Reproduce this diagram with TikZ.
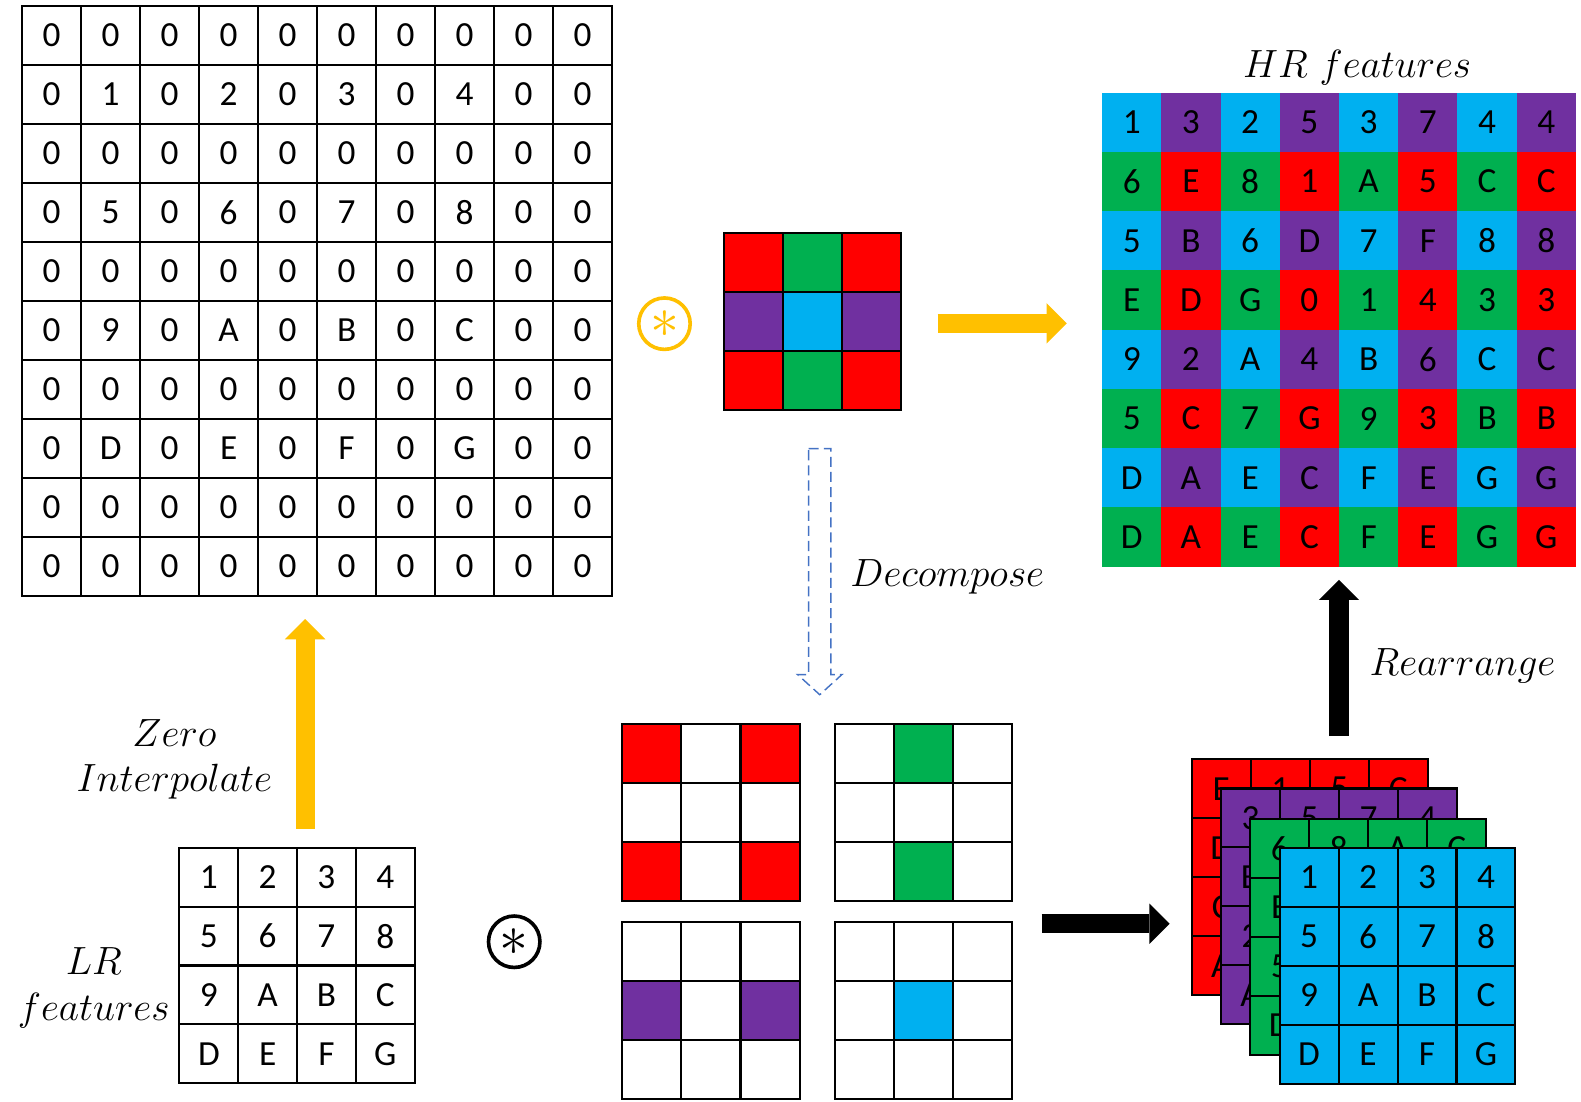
\documentclass[tikz,border=0pt]{standalone}
\usepackage{graphicx}
\usepackage{fontspec}
\newfontfamily\cellfont{Carlito}
\definecolor{cellRed}{RGB}{255,0,0}
\definecolor{cellGreen}{RGB}{0,176,80}
\definecolor{cellBlue}{RGB}{0,176,240}
\definecolor{cellPurple}{RGB}{112,48,160}
\definecolor{convYellow}{RGB}{255,192,0}
\definecolor{dashBlue}{RGB}{68,114,196}
\usetikzlibrary{arrows.meta, positioning, fit, calc}

\tikzset{
  cell/.style={draw=black, line width=1pt, minimum size=29.25pt, inner sep=0pt, outer sep=0pt, font=\fontsize{17.5}{20}\cellfont},
  hrcell/.style={minimum size=29.4pt, inner sep=0pt, outer sep=0pt, font=\fontsize{17.5}{20}\cellfont},
  gridframe/.style={inner sep=0pt, outer sep=0pt},
  steplabel/.style={font=\fontsize{17.28}{20}\selectfont, inner sep=0pt, scale=1.13},
  convmark/.style={circle, line width=1.8pt, minimum size=25.5pt, inner sep=0pt, font=\fontsize{24.88}{25}\selectfont},
  blockarrow/.style={line width=9.5pt, -{Triangle[width=20pt, length=10pt, line width=0pt]}},
}

\begin{document}
\begin{tikzpicture}[x=0.5pt, y=-0.5pt]
  \path[use as bounding box, fill=white] (0,0) rectangle (1568,1092);

  % Zero interpolated grid
  \foreach \row [count=\r] in {{0,0,0,0,0,0,0,0,0,0}, {0,1,0,2,0,3,0,4,0,0}, {0,0,0,0,0,0,0,0,0,0}, {0,5,0,6,0,7,0,8,0,0}, {0,0,0,0,0,0,0,0,0,0}, {0,9,0,A,0,B,0,C,0,0}, {0,0,0,0,0,0,0,0,0,0}, {0,D,0,E,0,F,0,G,0,0}, {0,0,0,0,0,0,0,0,0,0}, {0,0,0,0,0,0,0,0,0,0}}
    \foreach \v [count=\c] in \row
      \node[cell] (zi-\r-\c) at ({22+(\c-0.5)*58.5}, {6+(\r-0.5)*58.5}) {\v};
  \node[gridframe, fit=(zi-1-1)(zi-10-10)] (zi) {};

  % Kernel
  \foreach \row [count=\r] in {{cellRed,cellGreen,cellRed}, {cellPurple,cellBlue,cellPurple}, {cellRed,cellGreen,cellRed}}
    \foreach \col [count=\c] in \row
      \node[cell, fill=\col] (k-\r-\c) at ({718+(\c-0.5)*58.5}, {231+(\r-0.5)*58.5}) {};
  \node[gridframe, fit=(k-1-1)(k-3-3)] (kern) {};
  \node[convmark, draw=convYellow, text=convYellow] (conv-y) at (659,321) {\scalebox{1.15}{$\ast$}};

  % HR features
  \foreach \row [count=\r] in {{1,3,2,5,3,7,4,4}, {6,E,8,1,A,5,C,C}, {5,B,6,D,7,F,8,8}, {E,D,G,0,1,4,3,3}, {9,2,A,4,B,6,C,C}, {5,C,7,G,9,3,B,B}, {D,A,E,C,F,E,G,G}, {D,A,E,C,F,E,G,G}}
    \foreach \v [count=\c] in \row {
      \ifodd\r\relax
        \ifodd\c\relax \def\hc{cellBlue}\else \def\hc{cellPurple}\fi
      \else
        \ifodd\c\relax \def\hc{cellGreen}\else \def\hc{cellRed}\fi
      \fi
      \node[hrcell, fill=\hc] (hr-\r-\c) at ({1093+(\c-0.5)*58.75}, {92+(\r-0.5)*58.75}) {\v};
    }
  \node[gridframe, fit=(hr-1-1)(hr-8-8)] (hr) {};
  \node[steplabel] (hr-label) at (1346,67) {$HR\ features$};

  % Decomposed kernels
  \foreach \gn/\gx/\gy/\gc/\mask in {dR/617/718/cellRed/{1,0,1,0,0,0,1,0,1}, dG/828/718/cellGreen/{0,1,0,0,0,0,0,1,0}, dP/617/914/cellPurple/{0,0,0,1,0,1,0,0,0}, dB/828/914/cellBlue/{0,0,0,0,1,0,0,0,0}}
    \foreach \m [count=\i from 0] in \mask {
      \pgfmathtruncatemacro\dcol{mod(\i,3)}
      \pgfmathtruncatemacro\drow{floor(\i/3)}
      \ifnum\m=1 \def\fc{\gc}\else \def\fc{white}\fi
      \node[cell, fill=\fc] (\gn-\i) at ({\gx+(\dcol+0.5)*58.7}, {\gy+(\drow+0.5)*58.7}) {};
    }
  \node[gridframe, fit=(dB-0)(dB-8)] (dB) {};

  % Dashed decompose arrow
  \coordinate (dec-top) at (813,445);
  \coordinate (dec-tip) at (813,689);
  \draw[dashBlue, line width=0.7pt, dash pattern=on 5pt off 2.5pt]
    ($(dec-top)+(-11,0)$) -- ($(dec-top)+(11,0)$) -- ($(dec-tip)+(11,-20)$) -- ($(dec-tip)+(22,-20)$)
    -- (dec-tip) -- ($(dec-tip)+(-22,-20)$) -- ($(dec-tip)+(-11,-20)$) -- cycle;
  \node[steplabel, anchor=west] (dec-label) at (843,572) {$Decompose$};

  % LR features
  \foreach \row [count=\r] in {{1,2,3,4}, {5,6,7,8}, {9,A,B,C}, {D,E,F,G}}
    \foreach \v [count=\c] in \row
      \node[cell] (lr-\r-\c) at ({178+(\c-0.5)*58.3}, {841+(\r-0.5)*58.3}) {\v};
  \node[gridframe, fit=(lr-1-1)(lr-4-4)] (lr) {};
  \node[steplabel, align=center] (lr-label) at (93,980) {$LR$\\$features$};
  \node[convmark, draw=black] (conv-k) at (510,934) {\scalebox{1.15}{$\ast$}};
  \node[steplabel, align=center] (zi-label) at (173,753) {$Zero$\\$Interpolate$};

  % Channel stack
  \foreach \ln/\lx/\ly/\lc/\vals in {sR/1182/753/cellRed/{E,1,5,C,D,0,4,3,C,G,3,B,A,C,E,G}, sP/1211/782/cellPurple/{3,5,7,4,B,D,F,8,2,4,6,C,A,C,E,G}, sG/1240/812/cellGreen/{6,8,A,C,E,G,1,3,5,7,9,B,D,E,F,G}, sB/1269/841/cellBlue/{1,2,3,4,5,6,7,8,9,A,B,C,D,E,F,G}}
    \foreach \v [count=\i from 0] in \vals {
      \pgfmathtruncatemacro\dcol{mod(\i,4)}
      \pgfmathtruncatemacro\drow{floor(\i/4)}
      \node[cell, fill=\lc] (\ln-\i) at ({\lx+(\dcol+0.5)*58.5}, {\ly+(\drow+0.5)*58.5}) {\v};
    }
  \node[gridframe, fit=(sR-0)(sR-15)] (sR) {};
  \node[steplabel, anchor=west] (re-label) at (1358,660) {$Rearrange$};

  % Block arrows
  \draw[blockarrow, convYellow, shorten <=9.5pt, shorten >=11.5pt] ([xshift=4pt]lr.north) -- ([xshift=4pt]lr.north |- zi.south);
  \draw[blockarrow, convYellow, shorten <=18.25pt, shorten >=17.5pt] ([yshift=-1pt]kern.east) -- ([yshift=-1pt]kern.east -| hr.west);
  \draw[blockarrow, black, shorten <=14.5pt, shorten >=11pt] ([yshift=-1pt]dB.north east) -- ([yshift=-1pt]dB.north east -| sR.west);
  \draw[blockarrow, black, shorten <=11.5pt, shorten >=6.5pt] (sR.north -| hr.south) -- (hr.south);
\end{tikzpicture}
\end{document}
